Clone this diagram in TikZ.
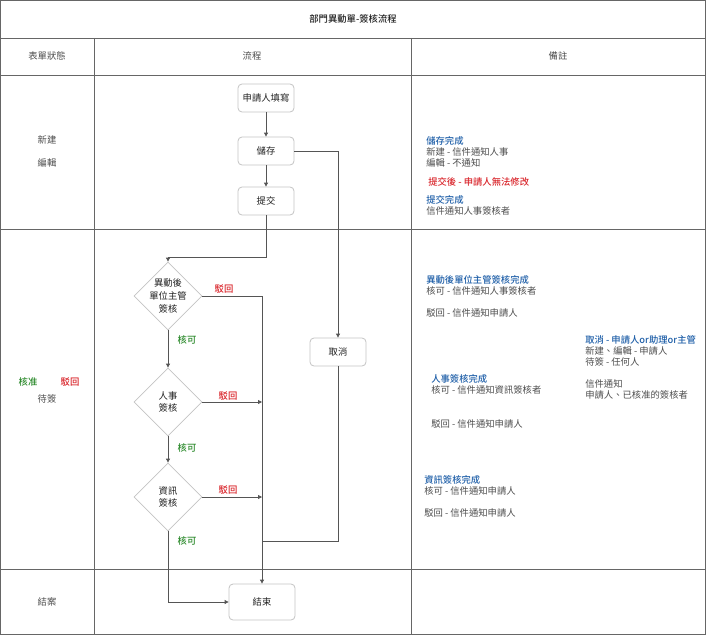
\documentclass[tikz,border=0pt]{standalone}
\usepackage{fontspec}
\setmainfont{Noto Sans CJK TC}[BoldFont={Noto Sans CJK TC Medium}]
\usetikzlibrary{arrows.meta,positioning,shapes.geometric}
\definecolor{gridgray}{HTML}{666666}
\definecolor{boxgray}{HTML}{C4C4C4}
\definecolor{linegray}{HTML}{555555}
\definecolor{textgray}{HTML}{4D4D4D}
\definecolor{inkdark}{HTML}{222222}
\definecolor{notered}{HTML}{D9262C}
\definecolor{noteblue}{HTML}{1F5FA8}
\definecolor{notegreen}{HTML}{2E8B2E}
\tikzset{
  cell/.style={
    font=\fontsize{7}{8.25}\selectfont,
    text=textgray
  },
  stepbox/.style={
    rectangle,
    rounded corners=3pt,
    draw=boxgray,
    fill=white,
    line width=0.6pt,
    minimum width=42pt,
    minimum height=21pt,
    text=inkdark,
    font=\fontsize{7}{8.25}\selectfont
  },
  check/.style={
    diamond,
    aspect=1,
    draw=boxgray,
    fill=white,
    line width=0.6pt,
    inner sep=-1pt,
    minimum width=51pt,
    minimum height=51pt,
    align=center,
    text=inkdark,
    font=\fontsize{7}{9.5}\selectfont
  },
  line/.style={-{Triangle[length=3pt,width=3pt]}, draw=linegray, line width=0.6pt},
  link/.style={draw=linegray, line width=0.6pt},
  grid/.style={draw=gridgray, line width=0.6pt},
  reject/.style={text=notered, font=\fontsize{7}{8.25}\selectfont\bfseries},
  approve/.style={text=notegreen, font=\fontsize{7}{8.25}\selectfont\bfseries},
  note/.style={
    anchor=north west,
    inner sep=0pt,
    align=left,
    text=textgray,
    font=\fontsize{7}{8.25}\selectfont
  }
}
\newcommand{\headblue}[1]{\textcolor{noteblue}{\bfseries #1}}

\begin{document}
\begin{tikzpicture}[x=0.75pt, y=-0.75pt]
  \useasboundingbox (0,0) rectangle (706,635);

  % table
  \draw[grid] (0.5,0.5) rectangle (705.5,634.5);
  \draw[grid] (0,38) -- (706,38);
  \draw[grid] (0,75) -- (706,75);
  \draw[grid] (0,229) -- (706,229);
  \draw[grid] (0,569) -- (706,569);
  \draw[grid] (94,38) -- (94,635);
  \draw[grid] (411,38) -- (411,635);

  \node[cell, text=inkdark, font=\fontsize{7}{8.25}\selectfont\bfseries] (title) at (353,19) {部門異動單-簽核流程};
  \node[cell] (hstate) at (47,56) {表單狀態};
  \node[cell] (hflow) at (252,56) {流程};
  \node[cell] (hnote) at (558,56) {備註};

  % states
  \node[cell] (snew) at (47,140) {新建};
  \node[cell] (sedit) at (47,163) {編輯};
  \node[approve] (sok) at (28,382) {核准};
  \node[reject] (sback) at (70,382) {駁回};
  \node[cell] (swait) at (47,399) {待簽};
  \node[cell] (sclose) at (47,602) {結案};

  % flow
  \node[stepbox] (fill) at (266,98) {申請人填寫};
  \node[stepbox] (save) at (266,151) {儲存};
  \node[stepbox] (submit) at (266,201) {提交};
  \node[check] (dept) at (168,296) {異動後\\單位主管\\簽核};
  \node[check] (hr) at (168,402) {人事\\簽核};
  \node[check] (it) at (168,497) {資訊\\簽核};
  \node[stepbox] (cancel) at (338,352) {取消};
  \node[stepbox, minimum width=49.5pt, minimum height=27pt] (finish) at (262,602) {結束};
  \coordinate (merge) at (262,541);

  \draw[line] (fill) -- (save);
  \draw[line] (save) -- (submit);
  \draw[line] (submit.south) -- ++(0,42) -| (dept.north);
  \draw[line] (save.east) -| (cancel.north);
  \draw[link] (cancel.south) |- (merge);
  \draw[line] (dept.east) -| (finish.north);
  \draw[line] (hr.east) -- (hr.east -| finish.north);
  \draw[line] (it.east) -- (it.east -| finish.north);
  \draw[line] (dept) -- (hr);
  \draw[line] (hr) -- (it);
  \draw[line] (it.south) |- (finish.west);

  \node[reject] (rdept) at (224,289) {駁回};
  \node[reject] (rhr) at (228,396) {駁回};
  \node[reject] (rit) at (228,490) {駁回};
  \node[approve] (adept) at (187,340) {核可};
  \node[approve] (ahr) at (187,448) {核可};
  \node[approve] (ait) at (187,541) {核可};

  % notes
  \node[note] (nsave) at (426,136) {\headblue{儲存完成}\\新建 - 信件通知人事\\編輯 - 不通知};
  \node[note, text=notered, font=\fontsize{7}{8.25}\selectfont\bfseries] (nlock) at (428,177) {提交後 - 申請人無法修改};
  \node[note] (nsubmit) at (426,195) {\headblue{提交完成}\\信件通知人事簽核者};
  \node[note] (ndept) at (426,275) {\headblue{異動後單位主管簽核完成}\\核可 - 信件通知人事簽核者\\[8.25pt]駁回 - 信件通知申請人};
  \node[note] (ncancel) at (585,335) {\headblue{取消 - 申請人or助理or主管}\\新建、編輯 - 申請人\\待簽 - 任何人\\[8.25pt]信件通知\\申請人、已核准的簽核者};
  \node[note] (nhr) at (431,374) {\headblue{人事簽核完成}\\核可 - 信件通知資訊簽核者};
  \node[note] (nhrback) at (431,419) {駁回 - 信件通知申請人};
  \node[note] (nit) at (424,475) {\headblue{資訊簽核完成}\\核可 - 信件通知申請人\\[8.25pt]駁回 - 信件通知申請人};
\end{tikzpicture}
\end{document}
